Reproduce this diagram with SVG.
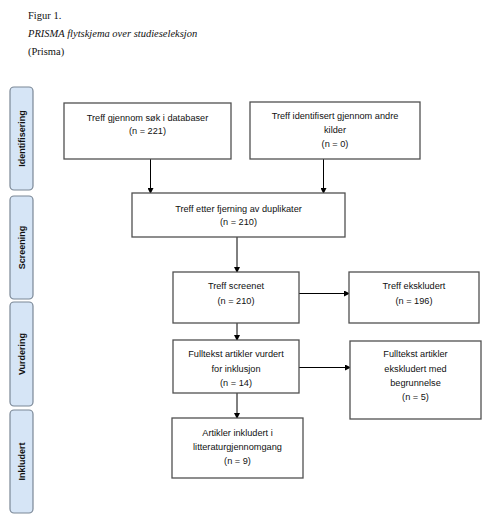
<svg xmlns="http://www.w3.org/2000/svg" width="490" height="526" viewBox="0 0 490 526">
<defs>
<marker id="ah" markerWidth="6" markerHeight="6" refX="5" refY="3" orient="auto" markerUnits="userSpaceOnUse">
<path d="M0,0 L6,3 L0,6 z" fill="#000"/>
</marker>
<style>
.hd{font-family:"Liberation Serif","Times New Roman",serif;font-size:10.5px;fill:#111}
.bx{fill:#fff;stroke:#505050;stroke-width:1.3}
.t{font-family:"Liberation Sans",Arial,sans-serif;font-size:9.2px;fill:#111;text-anchor:middle}
.side{fill:#d6e5f6;stroke:#7a8796;stroke-width:1.2}
.st{font-family:"Liberation Sans",Arial,sans-serif;font-size:9px;font-weight:bold;fill:#111;text-anchor:middle}
.c{stroke:#000;stroke-width:1;fill:none;marker-end:url(#ah)}
</style>
</defs>
<rect width="490" height="526" fill="#fff"/>
<text class="hd" x="28" y="19">Figur 1.</text>
<text class="hd" x="28" y="37" font-style="italic">PRISMA flytskjema over studieseleksjon</text>
<text class="hd" x="28" y="55">(Prisma)</text>

<g id="side-identifisering">
<rect class="side" x="10" y="87" width="23" height="103" rx="4"/>
<text class="st" transform="translate(24.5,138.5) rotate(-90)">Identifisering</text>
</g>
<g id="side-screening">
<rect class="side" x="10" y="196" width="23" height="103" rx="4"/>
<text class="st" transform="translate(24.5,247.5) rotate(-90)">Screening</text>
</g>
<g id="side-vurdering">
<rect class="side" x="10" y="302" width="23" height="104" rx="4"/>
<text class="st" transform="translate(24.5,354) rotate(-90)">Vurdering</text>
</g>
<g id="side-inkludert">
<rect class="side" x="10" y="410" width="23" height="103" rx="4"/>
<text class="st" transform="translate(24.5,461.5) rotate(-90)">Inkludert</text>
</g>

<g id="connectors">
<line class="c" x1="150.5" y1="159" x2="150.5" y2="193"/>
<line class="c" x1="323.5" y1="159" x2="323.5" y2="193"/>
<line class="c" x1="237" y1="237" x2="237" y2="272"/>
<line class="c" x1="299" y1="293.5" x2="349" y2="293.5"/>
<line class="c" x1="237" y1="323" x2="237" y2="340"/>
<line class="c" x1="299" y1="367.5" x2="350" y2="367.5"/>
<line class="c" x1="237" y1="393" x2="237" y2="418"/>
</g>

<g id="n-database">
<rect class="bx" x="64" y="103" width="167" height="56"/>
<text class="t" x="147.5" y="121">Treff gjennom søk i databaser</text>
<text class="t" x="147.5" y="134">(n = 221)</text>
</g>
<g id="n-andre">
<rect class="bx" x="250" y="102" width="170" height="57"/>
<text class="t" x="335" y="119">Treff identifisert gjennom andre</text>
<text class="t" x="335" y="133">kilder</text>
<text class="t" x="335" y="147">(n = 0)</text>
</g>
<g id="n-duplikater">
<rect class="bx" x="132" y="193" width="213" height="44"/>
<text class="t" x="238.5" y="212">Treff etter fjerning av duplikater</text>
<text class="t" x="238.5" y="225">(n =  210)</text>
</g>
<g id="n-screenet">
<rect class="bx" x="173" y="272" width="126" height="51"/>
<text class="t" x="236" y="289">Treff screenet</text>
<text class="t" x="236" y="304">(n = 210)</text>
</g>
<g id="n-ekskludert">
<rect class="bx" x="349" y="272" width="130" height="51"/>
<text class="t" x="414" y="289">Treff ekskludert</text>
<text class="t" x="414" y="304">(n = 196)</text>
</g>
<g id="n-fulltekst">
<rect class="bx" x="173" y="340" width="126" height="53"/>
<text class="t" x="236" y="357">Fulltekst artikler vurdert</text>
<text class="t" x="236" y="372">for inklusjon</text>
<text class="t" x="236" y="386">(n =  14)</text>
</g>
<g id="n-fulltekst-ekskl">
<rect class="bx" x="350" y="341" width="131" height="78"/>
<text class="t" x="415.5" y="357">Fulltekst artikler</text>
<text class="t" x="415.5" y="372">ekskludert med</text>
<text class="t" x="415.5" y="386">begrunnelse</text>
<text class="t" x="415.5" y="400">(n = 5)</text>
</g>
<g id="n-inkludert">
<rect class="bx" x="172" y="418" width="131" height="60"/>
<text class="t" x="237.5" y="436">Artikler inkludert i</text>
<text class="t" x="237.5" y="450">litteraturgjennomgang</text>
<text class="t" x="237.5" y="464">(n = 9)</text>
</g>
</svg>
